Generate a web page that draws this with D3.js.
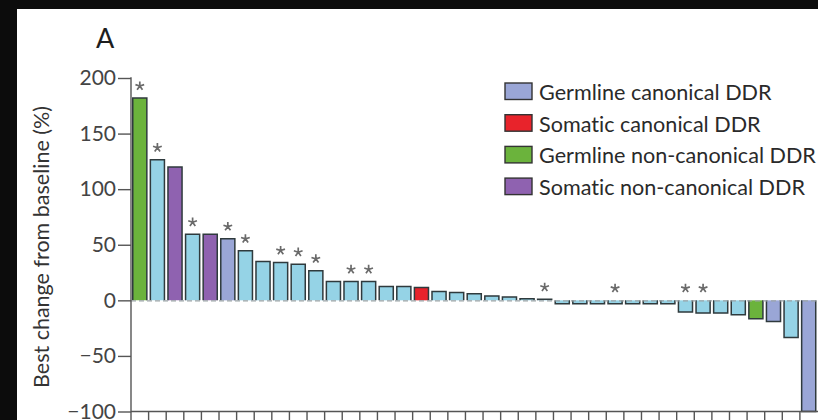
<!DOCTYPE html>
<html>
<head>
<meta charset="utf-8">
<script src="https://cdn.jsdelivr.net/npm/d3@7"></script>
<style>
  html, body { margin: 0; padding: 0; background: #0c0c0c; }
  svg { display: block; }
  text { font-family: Lato, "Open Sans", sans-serif; font-variant-ligatures: none; }
</style>
</head>
<body>
<svg id="chart" width="818" height="420"></svg>
<script>
// Patients, ordered by best change from baseline (waterfall)
const patients = d3.range(1, 40).map(i => "P" + i);
const bestChange = [182, 126.5, 120, 59.5, 59.5, 55.5, 44.5, 35, 34, 32.5, 26.5, 17, 17, 17,
  12.5, 12.5, 11.5, 8, 7, 6, 4, 3, 1.5, 1,
  -3, -3, -3, -3, -3, -3, -3, -10.5, -11.5, -11.5, -13, -16.5, -19, -33.5, -100];
// Alteration class per patient: gc = germline canonical, sc = somatic canonical,
// gn = germline non-canonical, sn = somatic non-canonical, none = no DDR alteration
const alteration = ["gn", "none", "sn", "none", "sn", "gc", "none", "none", "none", "none", "none", "none", "none", "none",
  "none", "none", "sc", "none", "none", "none", "none", "none", "none", "none",
  "none", "none", "none", "none", "none", "none", "none", "none", "none", "none", "none", "gn", "gc", "none", "gc"];
// Patients marked with an asterisk
const starred = [0, 1, 3, 5, 6, 8, 9, 10, 12, 13, 23, 27, 31, 32];
const yTicks = [-100, -50, 0, 50, 100, 150, 200];
const legendKeys = ["gc", "sc", "gn", "sn"];
const legendLabels = ["Germline canonical DDR", "Somatic canonical DDR", "Germline non-canonical DDR", "Somatic non-canonical DDR"];

const colours = { gc: "#9aa6d6", sc: "#e8232b", gn: "#6bb33c", sn: "#8f62b0", none: "#95d3e6" };

const svg = d3.select("#chart");

// white panel
svg.append("rect").attr("x", 17).attr("y", 9).attr("width", 801).attr("height", 411).attr("fill", "#ffffff");

const x = d3.scaleBand().domain(patients).range([131, 817.5]).paddingInner(0.2).paddingOuter(0.1);
const y = d3.scaleLinear().domain([-100, 200]).range([411.5, 78]);

// panel letter
svg.append("text").attr("x", 96).attr("y", 48).attr("font-size", 27).attr("fill", "#1e1e1e").text("A");

// y-axis title
svg.append("text")
  .attr("transform", "translate(49,247) rotate(-90)")
  .attr("text-anchor", "middle").attr("font-size", 21.5).attr("fill", "#333")
  .text("Best change from baseline (%)");

// bars (open on the zero side)
const y0 = y(0);
const data = patients.map((p, i) => ({ p, i, v: bestChange[i], a: alteration[i] }));
svg.append("g").selectAll("path").data(data).join("path")
  .attr("d", d => {
    const x0 = x(d.p), x1 = x0 + x.bandwidth(), yv = y(d.v);
    return `M${x0},${y0}V${yv}H${x1}V${y0}`;
  })
  .attr("fill", d => colours[d.a])
  .attr("stroke", "#2f3a3d").attr("stroke-width", 1.5).attr("stroke-linejoin", "miter");

// dashed zero line
svg.append("line").attr("x1", 131).attr("x2", 818).attr("y1", y0 + 0.5).attr("y2", y0 + 0.5)
  .attr("stroke", "#9aa3a6").attr("stroke-width", 1.3).attr("stroke-dasharray", "5,3");

// asterisks: five-armed star symbol
const fiveArm = {
  draw(context, size) {
    const r = Math.sqrt(size);
    for (let k = 0; k < 5; k++) {
      const a = -Math.PI / 2 + k * 2 * Math.PI / 5;
      context.moveTo(0, 0);
      context.lineTo(r * Math.cos(a), r * Math.sin(a));
    }
  }
};
const star = d3.symbol().type(fiveArm).size(21);
svg.append("g").selectAll("path").data(starred).join("path")
  .attr("transform", i => `translate(${x(patients[i]) + x.bandwidth() / 2},${Math.min(y(bestChange[i]), y0) - 12})`)
  .attr("d", star)
  .attr("fill", "none").attr("stroke", "#6a6a6a").attr("stroke-width", 1.7).attr("stroke-linecap", "butt");

// y axis
const yAxis = d3.axisLeft(y).tickValues(yTicks).tickSize(13).tickSizeOuter(0).tickPadding(2)
  .tickFormat(d => d < 0 ? "\u2212" + Math.abs(d) : d);
const gy = svg.append("g").attr("transform", "translate(131,0)").call(yAxis);
gy.select(".domain").remove();
gy.selectAll(".tick line").attr("stroke", "#555").attr("stroke-width", 1.4);
gy.selectAll(".tick text").attr("font-size", 21).attr("fill", "#444").attr("font-family", "Lato, sans-serif");
svg.append("line").attr("x1", 131).attr("x2", 131).attr("y1", y(200) - 0.7).attr("y2", 420)
  .attr("stroke", "#555").attr("stroke-width", 1.4);

// bottom axis with ticks at band boundaries
const yb = y(-100);
svg.append("line").attr("x1", 131).attr("x2", 818).attr("y1", yb).attr("y2", yb)
  .attr("stroke", "#555").attr("stroke-width", 1.4);
const bounds = patients.map(p => x(p) - x.step() * x.paddingInner() / 2);
svg.append("g").selectAll("line").data(bounds.slice(1)).join("line")
  .attr("x1", d => d).attr("x2", d => d).attr("y1", yb).attr("y2", yb + 12)
  .attr("stroke", "#555").attr("stroke-width", 1.4);

// legend
const lg = svg.append("g").attr("transform", "translate(505,83)");
const rows = lg.selectAll("g").data(legendKeys).join("g")
  .attr("transform", (d, i) => `translate(0,${i * 31.7})`);
rows.append("rect").attr("width", 27).attr("height", 16.5)
  .attr("fill", d => colours[d]).attr("stroke", "#333").attr("stroke-width", 1.4);
rows.append("text").attr("x", 34).attr("y", 16.8).attr("font-size", 21.6).attr("fill", "#2a2a2a")
  .text((d, i) => legendLabels[i]);
</script>
</body>
</html>
